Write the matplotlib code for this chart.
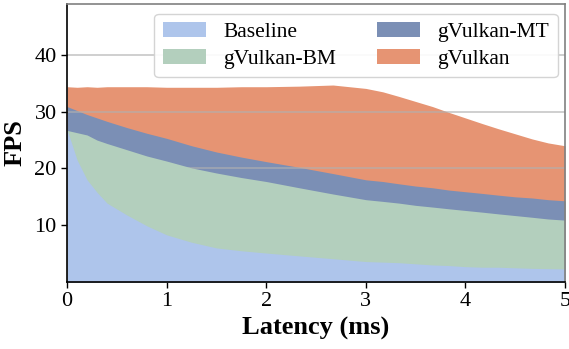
import numpy as np
import matplotlib.pyplot as plt
from matplotlib.patches import Patch

plt.rcParams['font.family'] = ['Liberation Serif', 'DejaVu Serif']

# latency (ms)
latency = [0, 0.1, 0.2, 0.3, 0.4, 0.6, 0.8, 1.0, 1.25, 1.5, 1.75, 2.0, 2.33, 2.67,
           3.0, 3.17, 3.33, 3.5, 3.67, 3.83, 4.0, 4.17, 4.33, 4.5, 4.67, 4.83, 5.0]

baseline = [26.8, 21.5, 18.0, 15.8, 13.9, 11.8, 9.9, 8.3, 7.0, 6.0, 5.5, 5.1, 4.6, 4.1,
            3.6, 3.5, 3.4, 3.2, 3.0, 2.9, 2.7, 2.6, 2.6, 2.5, 2.4, 2.35, 2.3]
gvulkan_bm = [26.7, 26.3, 25.9, 25.0, 24.4, 23.3, 22.2, 21.3, 20.1, 19.2, 18.4, 17.7, 16.6, 15.5,
              14.5, 14.2, 13.9, 13.5, 13.2, 12.9, 12.6, 12.3, 12.0, 11.7, 11.4, 11.1, 10.9]
gvulkan_mt = [30.9, 30.2, 29.5, 28.9, 28.3, 27.2, 26.2, 25.3, 24.0, 22.9, 22.0, 21.2, 20.2, 19.1,
              18.0, 17.7, 17.3, 16.9, 16.6, 16.2, 15.9, 15.6, 15.3, 15.0, 14.8, 14.5, 14.3]
gvulkan = [34.4, 34.3, 34.4, 34.3, 34.4, 34.4, 34.4, 34.3, 34.3, 34.3, 34.4, 34.4, 34.5, 34.7,
           34.1, 33.5, 32.7, 31.8, 30.9, 29.9, 28.9, 27.9, 27.0, 26.1, 25.2, 24.5, 24.0]

series = [
    ("Baseline", baseline, "#aec5eb"),
    ("gVulkan-BM", gvulkan_bm, "#b3cfbd"),
    ("gVulkan-MT", gvulkan_mt, "#7b8fb5"),
    ("gVulkan", gvulkan, "#e69473"),
]

fig = plt.figure(figsize=(5.69, 3.49), dpi=100)
ax = fig.add_axes([0.118, 0.192, 0.875, 0.797])

# draw back to front so the smaller series sit on top
for i, (name, vals, col) in enumerate(reversed(series)):
    ax.fill_between(latency, 0, vals, color=col, lw=0, zorder=1 + i)

ax.set_xlim(0, 5)
ax.set_ylim(0, 49)
ax.set_xticks([0, 1, 2, 3, 4, 5])
ax.set_yticks([10, 20, 30, 40])
ax.tick_params(labelsize=16, length=4, width=1)
ax.yaxis.grid(True, color="#b0b0b0", lw=1.2, alpha=0.7, zorder=10)
ax.set_axisbelow(False)

for s in ["top", "right"]:
    ax.spines[s].set_color("#808080")
for s in ["left", "bottom"]:
    ax.spines[s].set_color("black")
for s in ax.spines.values():
    s.set_linewidth(1.2)
    s.set_zorder(20)

ax.set_xlabel("Latency (ms)", fontsize=19, fontweight="bold", labelpad=4)
ax.set_ylabel("FPS", fontsize=19, fontweight="bold", labelpad=6)

handles = [Patch(facecolor=c, edgecolor="none", label=n) for n, v, c in series]
leg = ax.legend(handles=handles, ncol=2, loc="upper right", bbox_to_anchor=(0.985, 0.965),
                borderaxespad=0, fontsize=15.5, handlelength=2.0, handleheight=0.7,
                columnspacing=1.9, frameon=True, fancybox=True, framealpha=0.9,
                edgecolor="#d0d0d0", labelspacing=0.3, handletextpad=0.8)
leg.set_zorder(30)

fig.savefig("out.png", dpi=100)
